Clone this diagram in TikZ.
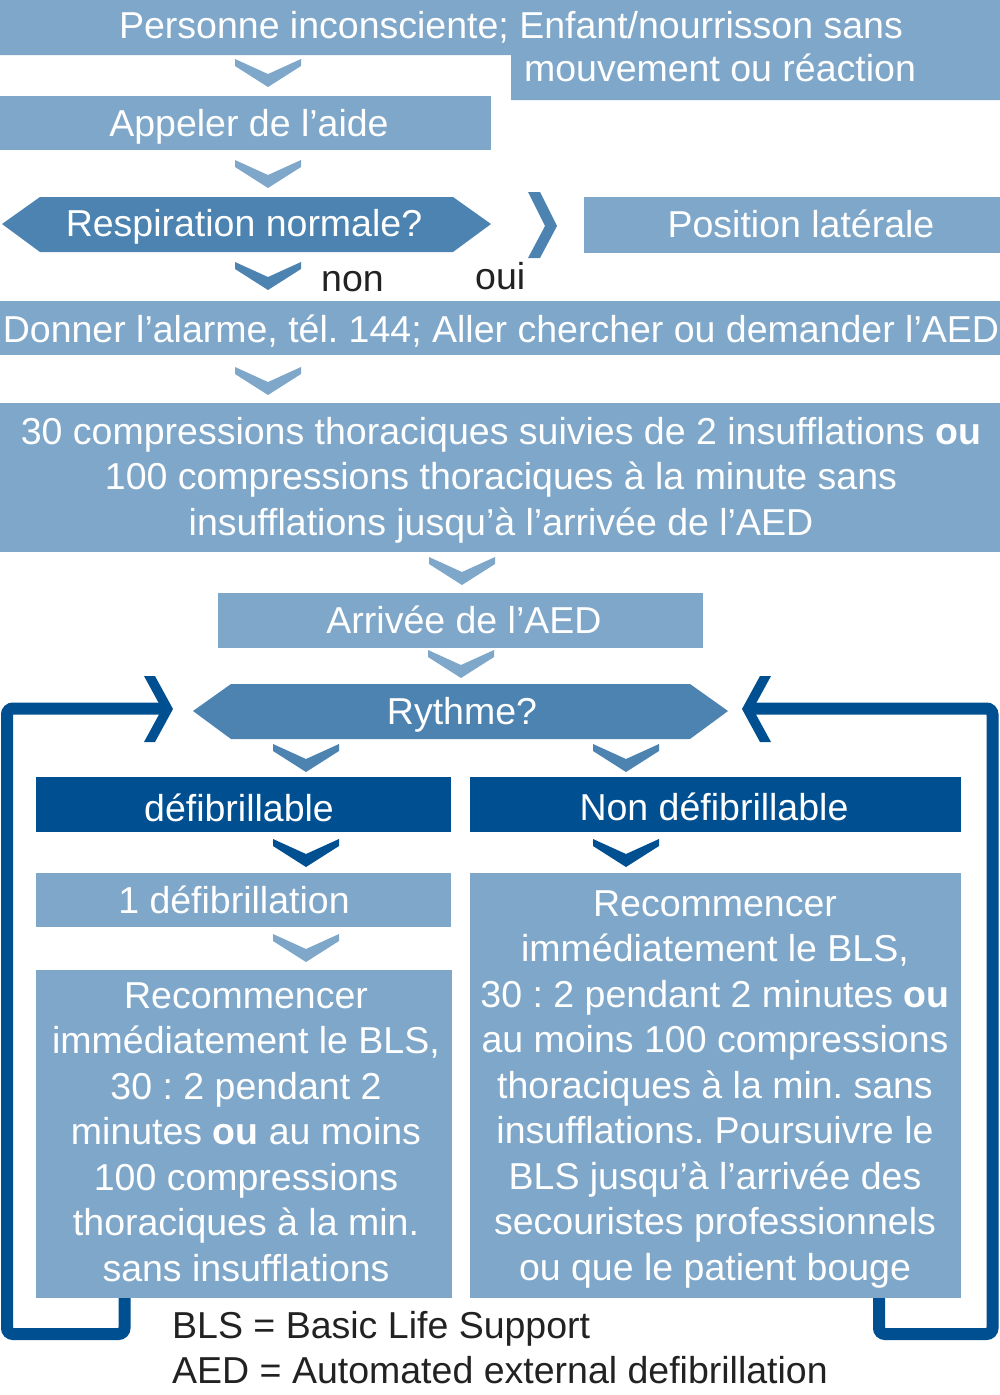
\documentclass[tikz,border=0pt]{standalone}
\usepackage{fontspec}
\setmainfont{Liberation Sans}
\frenchspacing
\definecolor{lightb}{RGB}{127,167,201}
\definecolor{midb}{RGB}{77,131,176}
\definecolor{darkb}{RGB}{0,79,145}
\definecolor{txtg}{RGB}{34,34,34}
\tikzset{
  tw/.style={font=\fontsize{37.5}{45.5}\selectfont, text=white, inner sep=0pt,
    align=center, anchor=north, yshift=31.85pt},
  tg/.style={font=\fontsize{37.5}{45.5}\selectfont, text=txtg, inner sep=0pt, anchor=base west},
  chev/.pic={\fill (-33,0)--(-33,7)--(0,28)--(33,7)--(33,0)--(0,15)--cycle;},
  loopline/.style={draw=darkb, line width=12pt, rounded corners=6pt}
}
\begin{document}
\begin{tikzpicture}[x=1pt,y=-1pt]
\useasboundingbox (0,0) rectangle (1000,1395);
% feedback loops
\coordinate (lstart) at (124.5,1296);
\coordinate (lend) at (162,708.5);
\coordinate (rstart) at (879,1296);
\coordinate (rend) at (753,708.5);
\draw[loopline] (lstart) -- (124.5,1334) -- (7,1334) -- (7,708.5) -- (lend);
\draw[loopline] (rstart) -- (879,1334) -- (992.5,1334) -- (992.5,708.5) -- (rend);
\fill[darkb] (144,676) -- (155,676) -- (173,709) -- (155,742) -- (144,742) -- (162,709) -- cycle;
\fill[darkb] (771,676) -- (760,676) -- (742,709) -- (760,742) -- (771,742) -- (753,709) -- cycle;
% boxes
\fill[lightb] (0,0) -- (1000,0) -- (1000,100) -- (511,100) -- (511,55) -- (0,55) -- cycle;
\fill[lightb] (0,96) rectangle (491,150);
\fill[midb] (2,224) -- (40,197) -- (453,197) -- (491,224) -- (453,252) -- (40,252) -- cycle;
\fill[midb] (528,192) -- (540,192) -- (557,226) -- (540,258) -- (528,258) -- (545,226) -- cycle;
\fill[lightb] (584,197) rectangle (1000,253);
\fill[lightb] (0,301) rectangle (1000,355);
\fill[lightb] (0,403) rectangle (1000,552);
\fill[lightb] (218,593) rectangle (703,648);
\fill[midb] (193,711) -- (231,684) -- (690,684) -- (728,711) -- (690,739) -- (231,739) -- cycle;
\fill[darkb] (36,777) rectangle (451,832);
\fill[darkb] (470,777) rectangle (961,832);
\fill[lightb] (36,873) rectangle (451,927);
\fill[lightb] (36,970) rectangle (452,1298);
\fill[lightb] (470,873) rectangle (961,1298);
% chevrons
\pic[fill=lightb] at (268,59) {chev};
\pic[fill=lightb] at (268,160) {chev};
\pic[fill=midb] at (268,262) {chev};
\pic[fill=lightb] at (268,367) {chev};
\pic[fill=lightb] at (462,557) {chev};
\pic[fill=lightb] at (461,650) {chev};
\pic[fill=midb] at (306,744) {chev};
\pic[fill=midb] at (626,744) {chev};
\pic[fill=darkb] at (306,839) {chev};
\pic[fill=darkb] at (626,839) {chev};
\pic[fill=lightb] at (306,934) {chev};
% texts
\node[tw] (t1a) at (511,38) {\strut Personne inconsciente; Enfant/nourrisson sans};
\node[tw] (t1b) at (720,81) {\strut mouvement ou réaction};
\node[tw] (t2) at (249,136) {\strut Appeler de l’aide};
\node[tw] (t3) at (244,236) {\strut Respiration normale?};
\node[tw] (t4) at (801,237) {\strut Position latérale};
\node[tg] (non) at (321,291) {non};
\node[tg] (oui) at (475,289) {oui};
\node[tw] (t5) at (501,342) {\strut Donner l’alarme, tél. 144; Aller chercher ou demander l’AED};
\node[tw] (t6) at (501,444) {\strut 30 compressions thoraciques suivies de 2 insufflations \textbf{ou}\\
  \strut 100 compressions thoraciques à la minute sans\\
  \strut insufflations jusqu’à l’arrivée de l’AED};
\node[tw] (t7) at (464,633) {\strut Arrivée de l’AED};
\node[tw] (t8) at (462,724) {\strut Rythme?};
\node[tw] (t9) at (239,821) {\strut défibrillable};
\node[tw] (t10) at (714,820) {\strut Non défibrillable};
\node[tw] (t11) at (234,913) {\strut 1 défibrillation};
\node[tw] (t12) at (246,1008) {\strut Recommencer\\
  \strut immédiatement le BLS,\\
  \strut 30 : 2 pendant 2\\
  \strut minutes \textbf{ou} au moins\\
  \strut 100 compressions\\
  \strut thoraciques à la min.\\
  \strut sans insufflations};
\node[tw] (t13) at (715,916) {\strut Recommencer\\
  \strut immédiatement le BLS,\\
  \strut 30 : 2 pendant 2 minutes \textbf{ou}\\
  \strut au moins 100 compressions\\
  \strut thoraciques à la min. sans\\
  \strut insufflations. Poursuivre le\\
  \strut BLS jusqu’à l’arrivée des\\
  \strut secouristes professionnels\\
  \strut ou que le patient bouge};
\node[tg] (f1) at (172,1338) {BLS = Basic Life Support};
\node[tg] (f2) at (172,1383) {AED = Automated external defibrillation};
\end{tikzpicture}
\end{document}
